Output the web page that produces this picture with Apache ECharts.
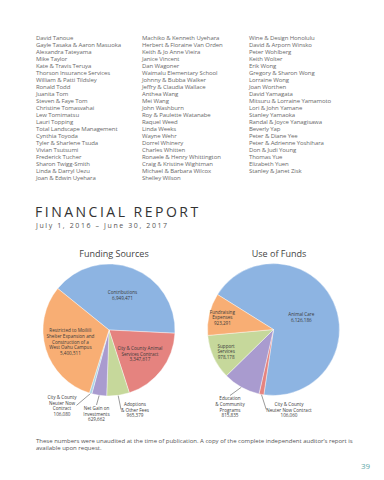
<!DOCTYPE html>
<html>
<head>
<meta charset="utf-8">
<script src="https://cdn.jsdelivr.net/npm/echarts@6/dist/echarts.min.js"></script>
<style>
  html, body { margin: 0; padding: 0; background: #fff; }
  #page { position: relative; width: 384px; height: 480px; overflow: hidden; font-family: "Open Sans", sans-serif; }
  .col { position: absolute; top: 35px; font-size: 6px; line-height: 6.98px; letter-spacing: -0.1px; color: #6a6a6a; white-space: nowrap; }
  #title { position: absolute; left: 35px; top: 202px; font-size: 14px; letter-spacing: 2.5px; color: #333; white-space: nowrap; line-height: 20px; }
  #sub { position: absolute; left: 36px; top: 221px; font-size: 7px; letter-spacing: 1.6px; color: #555; white-space: nowrap; line-height: 9px; }
  #note { position: absolute; left: 36px; top: 438px; width: 320px; font-size: 6px; line-height: 7px; color: #555; }
  #pg { position: absolute; left: 361px; top: 460px; font-size: 8px; color: #5fa7a8; }
  #main { position: absolute; left: 0; top: 236px; width: 384px; height: 194px; }
</style>
</head>
<body>
<div id="page">
  <div class="col" id="c1" style="left:36px"></div>
  <div class="col" id="c2" style="left:142px"></div>
  <div class="col" id="c3" style="left:249px"></div>
  <div id="title">FINANCIAL REPORT</div>
  <div id="sub">July 1, 2016 – June 30, 2017</div>
  <div id="main"></div>
  <div id="note">These numbers were unaudited at the time of publication. A copy of the complete independent auditor’s report is available upon request.</div>
  <div id="pg">39</div>
</div>
<script>
var donors1 = ['David Tanoue', 'Gayle Tasaka & Aaron Masuoka', 'Alexandra Tateyama', 'Mike Taylor',
  'Kate & Travis Teruya', 'Thorson Insurance Services', 'William & Patti Tildsley', 'Ronald Todd',
  'Juanita Tom', 'Steven & Faye Tom', 'Christine Tomasvahai', 'Lew Tomimatsu', 'Lauri Topping',
  'Total Landscape Management', 'Cynthia Toyoda', 'Tyler & Sharlene Tsuda', 'Vivian Tsutsumi',
  'Frederick Tucher', 'Sharon Twigg-Smith', 'Linda & Darryl Uezu', 'Joan & Edwin Uyehara'];
var donors2 = ['Machiko & Kenneth Uyehara', 'Herbert & Floraine Van Orden', 'Keith & Jo Anne Vieira',
  'Janice Vincent', 'Dan Wagoner', 'Waimalu Elementary School', 'Johnny & Bubba Walker',
  'Jeffry & Claudia Wallace', 'Anthea Wang', 'Mei Wang', 'John Washburn', 'Roy & Paulette Watanabe',
  'Raquel Weed', 'Linda Weeks', 'Wayne Wehr', 'Dorrel Whinery', 'Charles Whitten',
  'Ronaele & Henry Whittington', 'Craig & Kristine Wightman', 'Michael & Barbara Wilcox', 'Shelley Wilson'];
var donors3 = ['Wine & Design Honolulu', 'David & Arporn Winsko', 'Peter Wohlberg', 'Keith Wolter',
  'Erik Wong', 'Gregory & Sharon Wong', 'Lorraine Wong', 'Joan Worthen', 'David Yamagata',
  'Mitsuru & Lorraine Yamamoto', 'Lori & John Yamane', 'Stanley Yamaoka', 'Randal & Joyce Yanagisawa',
  'Beverly Yap', 'Peter & Diane Yee', 'Peter & Adrienne Yoshihara', 'Don & Judi Young', 'Thomas Yue',
  'Elizabeth Yuen', 'Stanley & Janet Zisk'];

// funding sources (clockwise from upper left)
var fundNames = ['Contributions', 'City & County Animal\nServices Contract', 'Adoptions\n& Other Fees',
  'Net Gain on\nInvestments', 'City & County\nNeuter Now\nContract',
  'Restricted to Moiliili\nShelter Expansion and\nConstruction of a\nWest Oahu Campus'];
var fundValues = [6949471, 3347617, 965379, 629662, 106080, 5400511];
var fundColors = ['#8db4e2', '#e5837f', '#c6d89b', '#a99bcf', '#a9d4e4', '#f8ae74'];

// use of funds
var useNames = ['Animal Care', 'City & County\nNeuter Now Contract', 'Education\n& Community\nPrograms',
  'Support\nServices', 'Fundraising\nExpenses'];
var useValues = [6126186, 106060, 815835, 978178, 923291];
var useColors = ['#8db4e2', '#e5837f', '#a99bcf', '#c6d89b', '#f8ae74'];

function fill(id, list) {
  document.getElementById(id).innerHTML = list.map(function (s) {
    return s.replace(/&/g, '&amp;');
  }).join('<br>');
}
fill('c1', donors1);
fill('c2', donors2);
fill('c3', donors3);

// label placement: outside labels get a fixed spot, inside ones are pushed along the radius
var fundCenter = [109, 94];
var useCenter = [273.5, 93.5];
var fundPush = [1.05, 1.08, 0, 0, 0, 1.12];
var fundOut = [null, null, [135, 165], [96.5, 169], [62, 158], null];
var usePush = [0.85, 0, 0, 1.45, 1.46];
var useOut = [null, [289, 165], [230, 159.5], null, null];

function layoutFor(c, push, out) {
  return function (p) {
    var i = p.dataIndex;
    if (out[i]) {
      return { x: out[i][0], y: out[i][1], align: 'center', verticalAlign: 'top' };
    }
    var r = p.labelRect;
    var lx = r.x + r.width / 2, ly = r.y + r.height / 2;
    return {
      x: c[0] + (lx - c[0]) * push[i],
      y: c[1] + (ly - c[1]) * push[i],
      align: 'center', verticalAlign: 'middle'
    };
  };
}

function makeData(names, values, colors, out) {
  var d = [];
  for (var i = 0; i < names.length; i++) {
    d.push({
      name: names[i], value: values[i],
      itemStyle: { color: colors[i] },
      label: { position: out[i] ? 'outside' : 'inside' },
      labelLine: { show: !!out[i] }
    });
  }
  return d;
}

function fmt(p) {
  return p.name + '\n' + p.value.toLocaleString('en-US');
}

var myChart = echarts.init(document.getElementById('main'), null, { renderer: 'svg' });
var labelStyle = {
  formatter: fmt, fontSize: 4.6, lineHeight: 5.7, color: '#3a3a3a',
  fontFamily: 'Open Sans', align: 'center'
};
var option = {
  animation: false,
  title: [
    { text: 'Funding Sources', left: 109, top: 8, textAlign: 'center',
      textStyle: { fontSize: 9, fontWeight: 'normal', color: '#444', fontFamily: 'Open Sans' } },
    { text: 'Use of Funds', left: 274, top: 8, textAlign: 'center',
      textStyle: { fontSize: 9, fontWeight: 'normal', color: '#444', fontFamily: 'Open Sans' } }
  ],
  series: [
    {
      type: 'pie', center: fundCenter, radius: 66, startAngle: 141,
      clockwise: true, avoidLabelOverlap: false,
      itemStyle: { borderColor: '#fff', borderWidth: 0.4 },
      label: labelStyle,
      labelLine: { length: 4, length2: 0, lineStyle: { color: '#555', width: 0.6 } },
      labelLayout: layoutFor(fundCenter, fundPush, fundOut),
      data: makeData(fundNames, fundValues, fundColors, fundOut)
    },
    {
      type: 'pie', center: useCenter, radius: 66, startAngle: 148,
      clockwise: true, avoidLabelOverlap: false,
      itemStyle: { borderColor: '#fff', borderWidth: 0.4 },
      label: labelStyle,
      labelLine: { length: 4, length2: 0, lineStyle: { color: '#555', width: 0.6 } },
      labelLayout: layoutFor(useCenter, usePush, useOut),
      data: makeData(useNames, useValues, useColors, useOut)
    }
  ]
};
myChart.setOption(option);
</script>
</body>
</html>
